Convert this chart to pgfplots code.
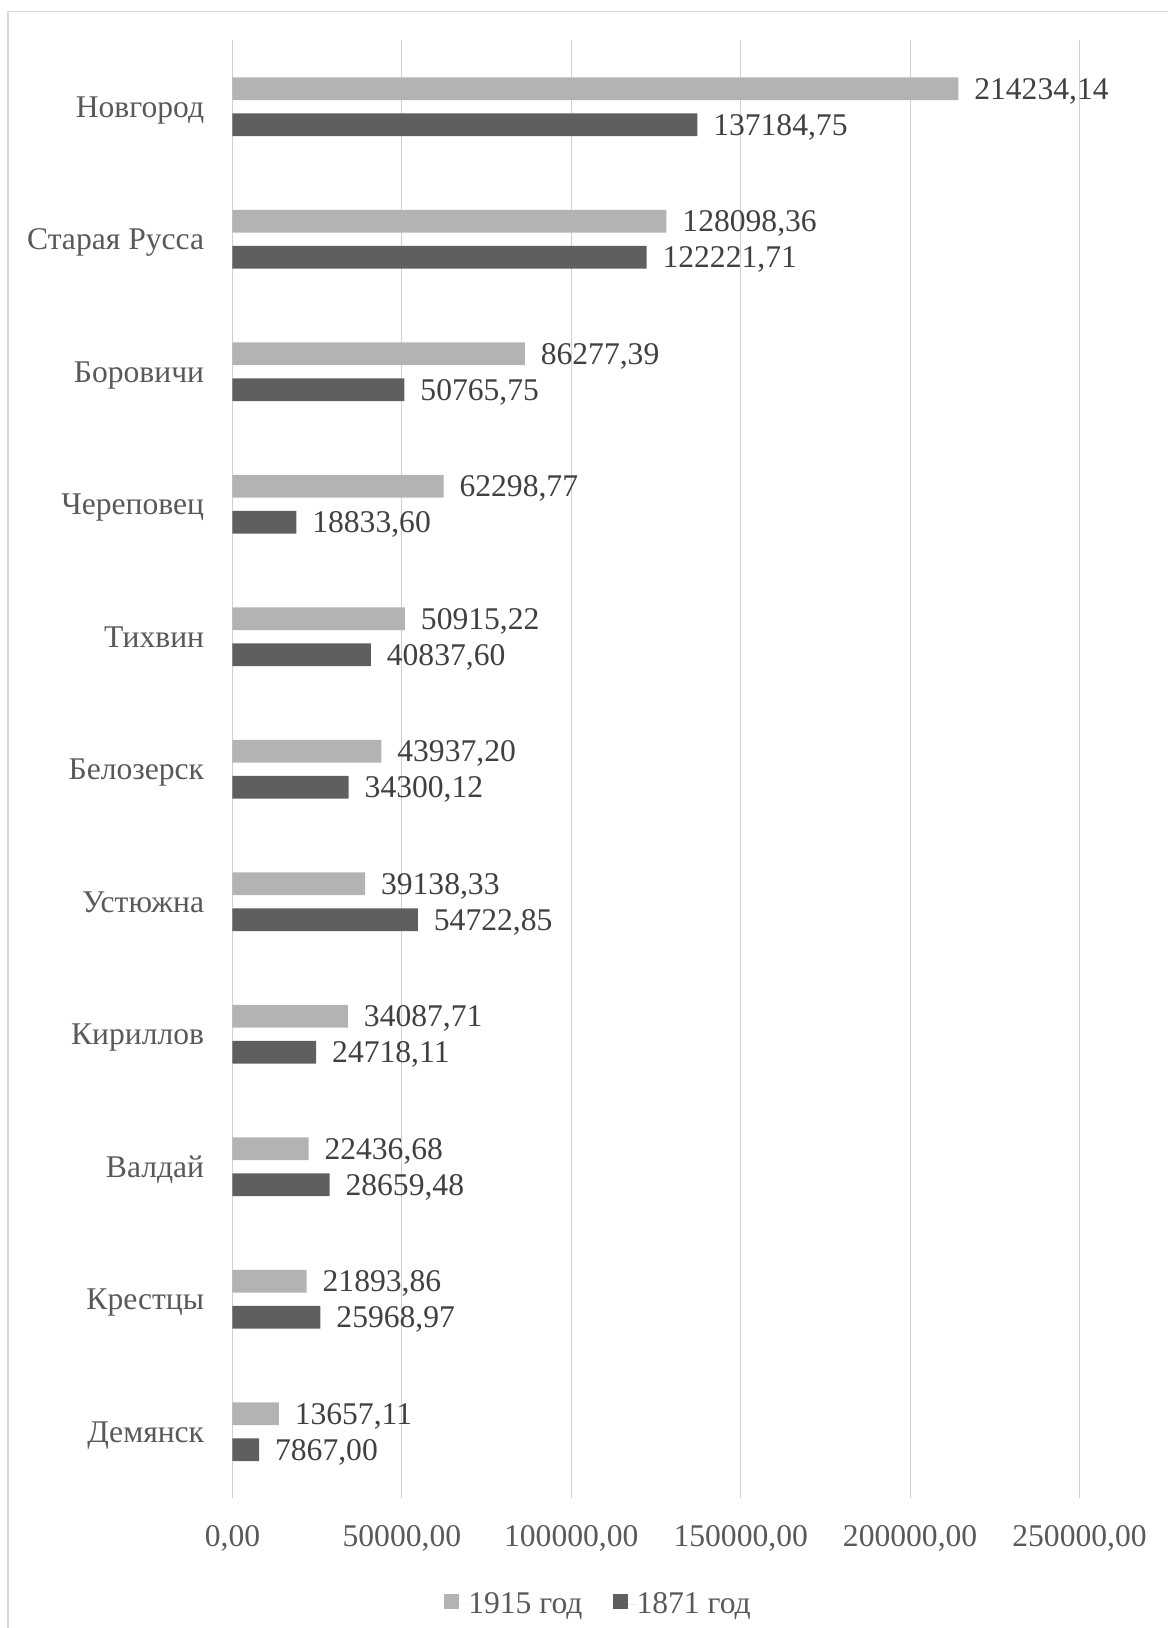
\documentclass[border=0pt]{standalone}
\usepackage{pgfplots}
\pgfplotsset{compat=1.18}
\usepackage{pgfplotstable}
\usepackage{fontspec}
\setmainfont{Liberation Serif}
\definecolor{barA}{HTML}{B3B3B3}
\definecolor{barB}{HTML}{5F5F5F}
\definecolor{txt}{HTML}{595959}
\definecolor{lab}{HTML}{404040}
\definecolor{gridc}{HTML}{D0D0D0}
\definecolor{framec}{HTML}{D9D9D9}

\pgfplotstableread{
y v1915 l1915 v1871 l1871
10 214234.14 214234,14 137184.75 137184,75
9 128098.36 128098,36 122221.71 122221,71
8 86277.39 86277,39 50765.75 50765,75
7 62298.77 62298,77 18833.60 18833,60
6 50915.22 50915,22 40837.60 40837,60
5 43937.20 43937,20 34300.12 34300,12
4 39138.33 39138,33 54722.85 54722,85
3 34087.71 34087,71 24718.11 24718,11
2 22436.68 22436,68 28659.48 28659,48
1 21893.86 21893,86 25968.97 25968,97
0 13657.11 13657,11 7867.00 7867,00
}\data

\begin{document}
\begin{tikzpicture}[font=\fontsize{15.8}{19}\selectfont]
\useasboundingbox (-116.25pt,-65pt) rectangle (467.75pt,749pt);
\begin{axis}[
  at={(0pt,0pt)}, anchor=south west, scale only axis,
  width=423.5pt, height=728.75pt,
  xbar, bar width=11.35pt,
  xmin=0, xmax=250000, ymin=-0.5, ymax=10.5,
  axis line style={draw=none},
  xtick={0,50000,100000,150000,200000,250000},
  xticklabels={{0,00},{50000,00},{100000,00},{150000,00},{200000,00},{250000,00}},
  scaled x ticks=false,
  ytick={0,1,2,3,4,5,6,7,8,9,10},
  yticklabels={Демянск,Крестцы,Валдай,Кириллов,Устюжна,Белозерск,Тихвин,Череповец,Боровичи,Старая Русса,Новгород},
  major tick length=0pt,
  xmajorgrids=true,
  major grid style={draw=gridc, line width=0.6pt},
  extra x ticks={0}, extra x tick labels={},
  extra x tick style={grid style={draw=framec, line width=1.5pt}},
  xticklabel style={anchor=base, inner sep=0pt, yshift=-24.3pt, text=txt},
  yticklabel style={anchor=base east, inner sep=0pt, xshift=-14pt, yshift=-5.3pt, text=txt},
  nodes near coords, point meta=explicit symbolic,
  every node near coord/.append style={anchor=base west, inner sep=0pt, xshift=7.8pt, yshift=-5.3pt, text=lab},
  legend columns=2,
  legend style={at={(0.431,-0.0734)}, anchor=center, draw=none, fill=none,
    inner sep=0pt, nodes={inner sep=0pt, text=txt},
    /tikz/every even column/.append style={column sep=15pt}},
  legend image code/.code={\path (0pt,0pt) -- (12pt,0pt); \fill[#1] (0pt,-2.15pt) rectangle (7.5pt,5.35pt);},
]
\addplot[fill=barA, draw=none, bar shift=9pt] table[x=v1915, y=y, meta=l1915] {\data};
\addlegendentry{1915 год}
\addplot[fill=barB, draw=none, bar shift=-9pt] table[x=v1871, y=y, meta=l1871] {\data};
\addlegendentry{1871 год}
\end{axis}
\draw[framec, line width=0.75pt] (-112.25pt,-65pt) -- (-112.25pt,743.15pt) -- (467.75pt,743.15pt);
\end{tikzpicture}
\end{document}
